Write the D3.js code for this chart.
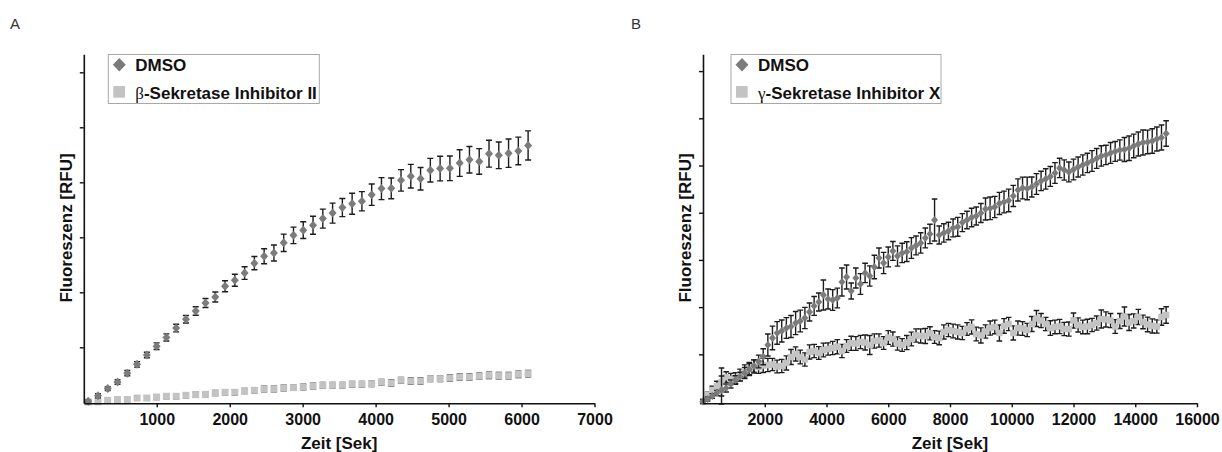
<html>
    <head>
        <script src="https://cdn.jsdelivr.net/npm/d3@7/dist/d3.min.js"></script>
        <style>
            body {
                margin: 0;
                background: #fff;
            }
            svg {
                font-family: "Liberation Sans", Arial, sans-serif;
            }
            .tick text {
                font-size: 16px;
                font-weight: bold;
                fill: #111;
            }
            .axis-title {
                font-size: 17px;
                font-weight: bold;
                fill: #111;
            }
            .legend-text {
                font-size: 17px;
                font-weight: bold;
                fill: #111;
            }
            .greek {
                font-family: "Liberation Serif", "DejaVu Serif", serif;
                font-weight: normal;
            }
            .panel-letter {
                font-size: 15px;
                fill: #333;
            }
        </style>
    </head>
    <body>
        <svg id="chart" width="1222" height="452"></svg>
        <script>
            // ---- panel A data (time in s, fluorescence in RFU) ----
            var timeA = [60, 194, 328, 462, 596, 730, 864, 998, 1132, 1266, 1400, 1534, 1668, 1802, 1936, 2070,
                2204, 2338, 2472, 2606, 2740, 2874, 3008, 3142, 3276, 3410, 3544, 3678, 3812, 3946, 4080, 4214,
                4348, 4482, 4616, 4750, 4884, 5018, 5152, 5286, 5420, 5554, 5688, 5822, 5956, 6090];
            var dmsoA = [20, 120, 250, 370, 530, 690, 860, 1020, 1180, 1350,
                1510, 1660, 1805, 1915, 2110, 2220, 2350, 2530, 2655, 2715,
                2900, 3035, 3130, 3220, 3340, 3440, 3540, 3610, 3655, 3775,
                3885, 3890, 4035, 4110, 4065, 4220, 4250, 4255, 4350, 4410,
                4380, 4520, 4490, 4530, 4570, 4670];
            var dmsoErrA = [20, 36, 36, 42, 48, 50, 50, 60, 65, 70,
                67, 76, 82, 91, 100, 109, 115, 121, 136, 145,
                158, 150, 152, 164, 173, 182, 165, 190, 175, 195,
                200, 188, 196, 215, 205, 215, 224, 224, 242, 242,
                233, 245, 242, 258, 251, 264];
            var inhA = [5, 10, 36, 49, 49, 78, 78, 96, 109, 109,
                127, 140, 145, 169, 182, 182, 205, 218, 242, 242,
                260, 267, 278, 296, 309, 309, 309, 327, 327, 340,
                364, 351, 400, 387, 387, 431, 431, 442, 460, 460,
                473, 491, 485, 485, 509, 522];
            var inhErrA = [30, 35, 38, 40, 40, 42, 42, 44, 44, 45,
                45, 46, 46, 47, 47, 48, 48, 48, 49, 49,
                50, 50, 50, 51, 51, 52, 52, 52, 53, 53,
                53, 54, 54, 54, 55, 55, 55, 55, 56, 56,
                56, 57, 57, 57, 58, 58];
            var xTicksA = [1000, 2000, 3000, 4000, 5000, 6000, 7000];
            var yTicksA = [1000, 2000, 3000, 4000, 5000, 6000];
            var legendA = ["DMSO", "β", "-Sekretase Inhibitor II"];

            // ---- panel B data ----
            var timeB = [0, 150, 300, 450, 600, 750, 900, 1050, 1200, 1350,
                1500, 1650, 1800, 1950, 2100, 2250, 2400, 2550, 2700, 2850,
                3000, 3150, 3300, 3450, 3600, 3750, 3900, 4050, 4200, 4350,
                4500, 4650, 4800, 4950, 5100, 5250, 5400, 5550, 5700, 5850,
                6000, 6150, 6300, 6450, 6600, 6750, 6900, 7050, 7200, 7350,
                7500, 7650, 7800, 7950, 8100, 8250, 8400, 8550, 8700, 8850,
                9000, 9150, 9300, 9450, 9600, 9750, 9900, 10050, 10200, 10350,
                10500, 10650, 10800, 10950, 11100, 11250, 11400, 11550, 11700, 11850,
                12000, 12150, 12300, 12450, 12600, 12750, 12900, 13050, 13200, 13350,
                13500, 13650, 13800, 13950, 14100, 14250, 14400, 14550, 14700, 14850,
                15000];
            var dmsoB = [0, 53, 117, 180, 244, 286, 371, 456, 526, 604,
                678, 752, 848, 949, 1197, 1346, 1452, 1494, 1557, 1589,
                1663, 1706, 1769, 1897, 2024, 2108, 2257, 2172, 2151, 2193,
                2532, 2638, 2341, 2617, 2490, 2723, 2659, 2850, 3041, 2935,
                3062, 3189, 3083, 3147, 3175, 3253, 3306, 3359, 3465, 3549,
                3846, 3528, 3571, 3613, 3677, 3700, 3790, 3846, 3899, 3930,
                3994, 4080, 4094, 4120, 4196, 4227, 4259, 4355, 4482, 4524,
                4513, 4545, 4609, 4672, 4715, 4768, 4842, 4948, 4905, 4863,
                4916, 4969, 5011, 5054, 5096, 5149, 5202, 5223, 5266, 5298,
                5329, 5340, 5365, 5414, 5456, 5488, 5499, 5520, 5562, 5594,
                5679];
            var dmsoErrB = [42, 42, 50, 55, 297, 85, 85, 90, 95, 120,
                127, 130, 135, 170, 233, 250, 240, 233, 220, 233,
                245, 230, 225, 190, 200, 190, 318, 212, 220, 210,
                297, 254, 170, 212, 220, 205, 215, 250, 212, 225,
                210, 200, 215, 205, 210, 220, 200, 215, 210, 205,
                445, 190, 195, 185, 190, 200, 190, 185, 195, 190,
                200, 233, 240, 225, 235, 230, 240, 225, 235, 230,
                240, 212, 220, 205, 215, 210, 220, 205, 215, 210,
                220, 212, 215, 205, 220, 210, 215, 205, 220, 210,
                215, 254, 260, 250, 255, 265, 250, 260, 255, 265,
                270];
            var inhB = [0, 138, 244, 328, 413, 519, 477, 498, 562, 646,
                699, 742, 731, 763, 773, 784, 742, 752, 816, 943,
                1007, 943, 890, 1049, 1070, 1028, 1091, 1112, 1134, 1161,
                1070, 1176, 1233, 1229, 1261, 1250, 1197, 1282, 1293, 1240,
                1356, 1324, 1229, 1197, 1250, 1324, 1399, 1388, 1388, 1445,
                1367, 1346, 1473, 1515, 1494, 1473, 1452, 1536, 1579, 1430,
                1399, 1483, 1557, 1579, 1452, 1600, 1642, 1452, 1557, 1547,
                1515, 1642, 1759, 1716, 1642, 1557, 1579, 1589, 1536, 1536,
                1716, 1621, 1579, 1589, 1621, 1663, 1748, 1738, 1716, 1589,
                1706, 1801, 1674, 1706, 1791, 1685, 1632, 1600, 1589, 1791,
                1833];
            var inhErrB = [40, 60, 80, 100, 297, 110, 120, 110, 125, 130,
                130, 140, 135, 150, 140, 130, 135, 140, 150, 160,
                150, 145, 140, 150, 140, 135, 145, 130, 140, 150,
                140, 135, 150, 145, 140, 160, 200, 150, 140, 135,
                145, 150, 140, 135, 150, 145, 140, 150, 160, 140,
                135, 145, 150, 140, 145, 150, 140, 135, 150, 145,
                160, 140, 150, 145, 170, 155, 140, 150, 150, 145,
                140, 160, 170, 150, 140, 155, 145, 150, 140, 150,
                160, 150, 145, 155, 140, 150, 190, 160, 150, 145,
                160, 200, 170, 150, 160, 145, 155, 150, 140, 175,
                175];
            var xTicksB = [2000, 4000, 6000, 8000, 10000, 12000, 14000, 16000];
            var yTicksB = [1000, 2000, 3000, 4000, 5000, 6000, 7000];
            var legendB = ["DMSO", "γ", "-Sekretase Inhibitor X"];

            var svg = d3.select("#chart");
            var dmsoColor = "#7b7b7b";
            var inhColor = "#c3c3c3";
            var barColor = "#1c1c1c";

            var drawPanel = function (p) {
                var g = svg.append("g");
                var x = d3.scaleLinear().domain(p.xDomain).range(p.xRange);
                var y = d3.scaleLinear().domain(p.yDomain).range([403.3, 54.3]);

                // error bars with caps
                var errBars = function (t, v, e, cap, cls) {
                    g.append("g").selectAll("path")
                        .data(v)
                        .join("path")
                        .attr("class", cls)
                        .attr("fill", "none")
                        .attr("stroke", barColor)
                        .attr("stroke-width", 1.4)
                        .attr("d", function (d, i) {
                            var cx = x(t[i]), y1 = y(d + e[i]), y2 = y(d - e[i]);
                            return "M" + cx + "," + y1 + "V" + y2 +
                                "M" + (cx - cap) + "," + y1 + "H" + (cx + cap) +
                                "M" + (cx - cap) + "," + y2 + "H" + (cx + cap);
                        });
                };

                // inhibitor first, DMSO on top
                errBars(p.time, p.inh, p.inhErr, p.cap, "eb-inh");
                g.append("g").selectAll("rect")
                    .data(p.inh)
                    .join("rect")
                    .attr("x", function (d, i) { return x(p.time[i]) - p.sq / 2; })
                    .attr("y", function (d) { return y(d) - p.sq / 2; })
                    .attr("width", p.sq)
                    .attr("height", p.sq)
                    .attr("fill", inhColor);

                errBars(p.time, p.dmso, p.dmsoErr, p.cap, "eb-dmso");
                g.append("g").selectAll("path")
                    .data(p.dmso)
                    .join("path")
                    .attr("fill", dmsoColor)
                    .attr("d", function (d, i) {
                        var cx = x(p.time[i]), cy = y(d), w = p.dia / 2, h = p.dia / 2 + 0.5;
                        return "M" + cx + "," + (cy - h) + "L" + (cx + w) + "," + cy +
                            "L" + cx + "," + (cy + h) + "L" + (cx - w) + "," + cy + "Z";
                    });

                // axes
                var xAxis = g.append("g")
                    .attr("transform", "translate(0,403.3)")
                    .call(d3.axisBottom(x).tickValues(p.xTicks).tickSize(4).tickSizeOuter(0)
                        .tickPadding(6).tickFormat(d3.format("d")));
                var yAxis = g.append("g")
                    .attr("transform", "translate(" + p.xRange[0] + ",0)")
                    .call(d3.axisLeft(y).tickValues(p.yTicks).tickSize(4).tickSizeOuter(0).tickFormat(""));
                [xAxis, yAxis].forEach(function (a) {
                    a.select(".domain").attr("stroke", "#111").attr("stroke-width", 1.6);
                    a.selectAll(".tick line").attr("stroke", "#111").attr("stroke-width", 1.4);
                });
                xAxis.selectAll(".tick text").attr("fill", "#111");

                // axis titles
                g.append("text")
                    .attr("class", "axis-title")
                    .attr("x", (p.xRange[0] + p.xRange[1]) / 2)
                    .attr("y", 449)
                    .attr("text-anchor", "middle")
                    .text("Zeit [Sek]");
                g.append("text")
                    .attr("class", "axis-title")
                    .attr("transform", "translate(" + (p.xRange[0] - 12.3) + ",228) rotate(-90)")
                    .attr("text-anchor", "middle")
                    .text("Fluoreszenz [RFU]");

                // panel letter
                g.append("text")
                    .attr("class", "panel-letter")
                    .attr("x", p.letterX)
                    .attr("y", 28.5)
                    .text(p.letter);

                // legend
                var lx = p.legend.x;
                g.append("rect")
                    .attr("x", lx)
                    .attr("y", 54.5)
                    .attr("width", p.legend.w)
                    .attr("height", 49)
                    .attr("fill", "#fff")
                    .attr("stroke", "#a8a8a8")
                    .attr("stroke-width", 1);
                var mx = lx + 11;
                g.append("path")
                    .attr("fill", dmsoColor)
                    .attr("d", "M" + mx + ",58L" + (mx + 6.5) + ",64.7L" + mx + ",71.4L" + (mx - 6.5) + ",64.7Z");
                g.append("rect")
                    .attr("x", mx - 6)
                    .attr("y", 86)
                    .attr("width", 11.7)
                    .attr("height", 11.7)
                    .attr("fill", inhColor);
                g.append("text")
                    .attr("class", "legend-text")
                    .attr("x", lx + 27)
                    .attr("y", 70.8)
                    .text(p.labels[0]);
                var t2 = g.append("text")
                    .attr("class", "legend-text")
                    .attr("x", lx + 27)
                    .attr("y", 98.8);
                t2.append("tspan").attr("class", "greek").text(p.labels[1]);
                t2.append("tspan").text(p.labels[2]);
            };

            drawPanel({
                time: timeA, dmso: dmsoA, dmsoErr: dmsoErrA, inh: inhA, inhErr: inhErrA,
                xTicks: xTicksA, yTicks: yTicksA, labels: legendA,
                xDomain: [0, 7000], xRange: [83.8, 594.5], yDomain: [-18, 6327],
                cap: 3, sq: 7, dia: 8, letter: "A", letterX: 10,
                legend: {x: 108.3, w: 211}
            });
            drawPanel({
                time: timeB, dmso: dmsoB, dmsoErr: dmsoErrB, inh: inhB, inhErr: inhErrB,
                xTicks: xTicksB, yTicks: yTicksB, labels: legendB,
                xDomain: [0, 16000], xRange: [703, 1197], yDomain: [-38, 7356],
                cap: 2.8, sq: 6.5, dia: 7, letter: "B", letterX: 631,
                legend: {x: 731, w: 210}
            });
        </script>
    </body>
</html>
